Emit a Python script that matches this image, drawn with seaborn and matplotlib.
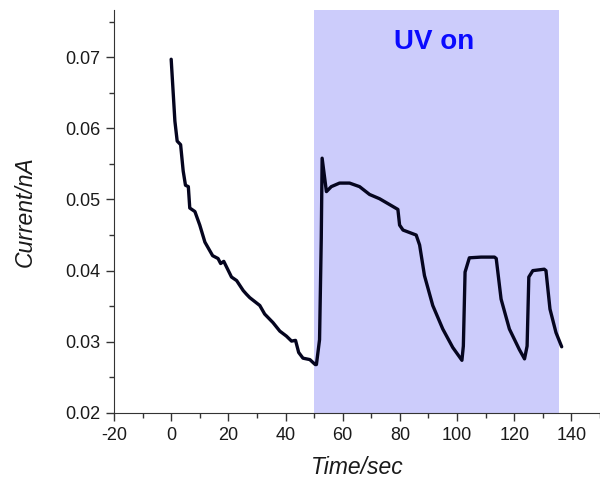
import numpy as np
import pandas as pd
import matplotlib
matplotlib.use("Agg")
import matplotlib.pyplot as plt
from matplotlib.ticker import MultipleLocator
import seaborn as sns

# values
time_sec = [0.0, 1.3, 2.1, 3.3, 4.2, 5.0, 6.0, 6.5, 8.3, 10.0, 11.8, 14.5, 16.4, 17.3,
            18.4, 21.1, 22.9, 25.2, 26.3, 27.5, 31.0, 32.7, 35.6, 38.0, 40.3, 42.1,
            43.5, 44.6, 46.1, 48.5, 50.4, 50.8, 51.9, 52.5, 52.8, 54.3, 56.0, 58.9,
            62.4, 65.9, 69.4, 72.9, 77.6, 79.3, 79.9, 81.1, 85.7, 86.9, 88.6, 91.5,
            95.0, 98.5, 101.7, 102.2, 102.8, 104.3, 108.4, 113.1, 113.7, 115.4, 118.3,
            121.8, 123.6, 124.5, 125.1, 126.5, 130.5, 131.1, 132.5, 134.6, 136.6]
current_na = [0.0697, 0.0610, 0.0582, 0.0577, 0.0540, 0.0520, 0.0518, 0.0488, 0.0483,
              0.0464, 0.0440, 0.0421, 0.0417, 0.0410, 0.0413, 0.0391, 0.0386, 0.0372,
              0.0367, 0.0362, 0.0351, 0.0339, 0.0327, 0.0315, 0.0308, 0.0301, 0.0302,
              0.0285, 0.0277, 0.0275, 0.0268, 0.0268, 0.0303, 0.0445, 0.0558, 0.0511,
              0.0518, 0.0523, 0.0523, 0.0518, 0.0507, 0.0501, 0.0490, 0.0486, 0.0464,
              0.0457, 0.0450, 0.0436, 0.0393, 0.0351, 0.0318, 0.0292, 0.0274, 0.0294,
              0.0398, 0.0418, 0.0419, 0.0419, 0.0417, 0.0360, 0.0318, 0.0289, 0.0276,
              0.0294, 0.0391, 0.0400, 0.0402, 0.0400, 0.0346, 0.0313, 0.0293]
uv_on = (50.0, 135.6)

df = pd.DataFrame({"t": time_sec, "i": current_na})

sns.set_style("ticks")
plt.rcParams["font.family"] = ["Liberation Sans", "DejaVu Sans"]
plt.rcParams["axes.unicode_minus"] = False

fig = plt.figure(figsize=(6, 4.83), dpi=100)
ax = fig.add_axes([0.19, 0.145, 0.81, 0.834])

ax.axvspan(uv_on[0], uv_on[1], color="#ccccfb", lw=0, zorder=0)
sns.lineplot(data=df, x="t", y="i", sort=False, color="#05051f", lw=2.4, ax=ax)
ax.text(92, 0.0721, "UV on", color="#0a0aff", fontsize=20,
        fontweight="bold", ha="center", va="center")

ax.set_xlim(-20, 150)
ax.set_ylim(0.02, 0.0766)
ax.xaxis.set_major_locator(MultipleLocator(20))
ax.xaxis.set_minor_locator(MultipleLocator(10))
ax.yaxis.set_major_locator(MultipleLocator(0.01))
ax.yaxis.set_minor_locator(MultipleLocator(0.005))
ax.yaxis.set_major_formatter(matplotlib.ticker.FormatStrFormatter("%.2f"))
ax.tick_params(which="major", length=6, width=1, labelsize=13, color="#333333",
               labelcolor="#1a1a1a", pad=4)
ax.tick_params(which="minor", length=3.5, width=1, color="#333333")
sns.despine(ax=ax)
for s in ("left", "bottom"):
    ax.spines[s].set_color("#333333")
ax.set_xlabel("Time/sec", fontsize=16.5, style="italic", labelpad=9, color="#1a1a1a")
ax.set_ylabel("Current/nA", fontsize=16.5, style="italic", labelpad=20, color="#1a1a1a")

fig.savefig("out.png", dpi=100)
